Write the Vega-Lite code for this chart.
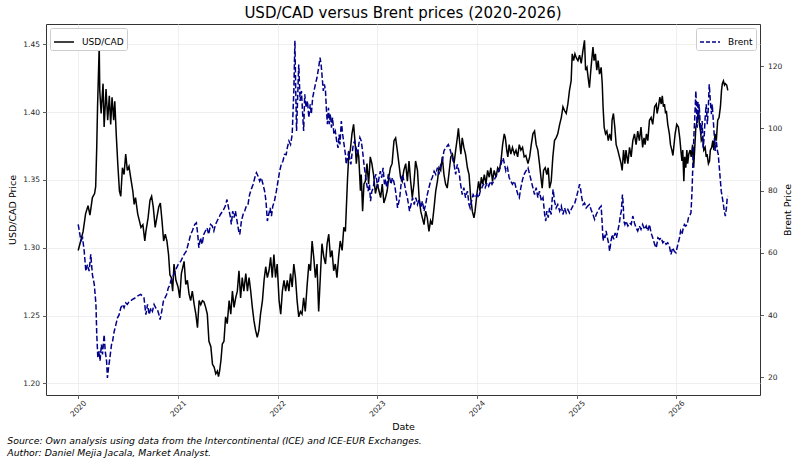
{
  "$schema": "https://vega.github.io/schema/vega-lite/v6.json",
  "background": "white",
  "padding": {"left": 7, "top": 5, "right": 5, "bottom": 5},
  "config": {
    "font": "DejaVu Sans",
    "view": {"stroke": "#333333", "strokeWidth": 1},
    "concat": {"spacing": 0},
    "axis": {
      "domain": false,
      "labelFont": "DejaVu Sans",
      "labelFontSize": 7.5,
      "labelColor": "#262626",
      "titleFont": "DejaVu Sans",
      "titleFontSize": 9.5,
      "titleFontWeight": "normal",
      "titleColor": "#000000",
      "tickColor": "#333333",
      "tickSize": 3.5,
      "tickWidth": 0.8,
      "gridColor": "#ebebeb",
      "gridWidth": 0.8
    },
    "legend": {
      "symbolType": "stroke",
      "symbolSize": 400,
      "symbolStrokeWidth": 1.5,
      "labelFont": "DejaVu Sans",
      "labelFontSize": 9,
      "labelColor": "#000000",
      "labelOffset": 7,
      "padding": 3,
      "strokeColor": "#cccccc",
      "fillColor": "#ffffff",
      "cornerRadius": 2,
      "offset": 4
    }
  },
  "title": {
    "text": [
      "Source: Own analysis using data from the Intercontinental (ICE) and ICE-EUR Exchanges.",
      "Author: Daniel Mejia Jacala, Market Analyst."
    ],
    "orient": "bottom",
    "anchor": "start",
    "frame": "bounds",
    "font": "DejaVu Sans",
    "fontSize": 9.3,
    "fontStyle": "italic",
    "fontWeight": "normal",
    "lineHeight": 12,
    "offset": 5,
    "color": "#000000"
  },
  "datasets": {
    "usdcad": [
      {"date": "2020-01-01", "rate": 1.298}, {"date": "2020-01-10", "rate": 1.305}, {"date": "2020-01-19", "rate": 1.312},
      {"date": "2020-01-28", "rate": 1.325}, {"date": "2020-02-06", "rate": 1.331}, {"date": "2020-02-13", "rate": 1.324},
      {"date": "2020-02-22", "rate": 1.337}, {"date": "2020-03-01", "rate": 1.340}, {"date": "2020-03-05", "rate": 1.345},
      {"date": "2020-03-09", "rate": 1.375}, {"date": "2020-03-12", "rate": 1.405}, {"date": "2020-03-18", "rate": 1.449},
      {"date": "2020-03-20", "rate": 1.416}, {"date": "2020-03-25", "rate": 1.399}, {"date": "2020-04-01", "rate": 1.421},
      {"date": "2020-04-05", "rate": 1.389}, {"date": "2020-04-12", "rate": 1.417}, {"date": "2020-04-18", "rate": 1.394},
      {"date": "2020-04-24", "rate": 1.412}, {"date": "2020-04-29", "rate": 1.391}, {"date": "2020-05-04", "rate": 1.411},
      {"date": "2020-05-10", "rate": 1.394}, {"date": "2020-05-14", "rate": 1.408}, {"date": "2020-05-20", "rate": 1.381},
      {"date": "2020-05-25", "rate": 1.362}, {"date": "2020-05-31", "rate": 1.342}, {"date": "2020-06-05", "rate": 1.338},
      {"date": "2020-06-11", "rate": 1.359}, {"date": "2020-06-17", "rate": 1.354}, {"date": "2020-06-23", "rate": 1.369},
      {"date": "2020-06-29", "rate": 1.357}, {"date": "2020-07-05", "rate": 1.360}, {"date": "2020-07-11", "rate": 1.352},
      {"date": "2020-07-19", "rate": 1.342}, {"date": "2020-07-24", "rate": 1.332}, {"date": "2020-07-29", "rate": 1.337},
      {"date": "2020-08-06", "rate": 1.325}, {"date": "2020-08-12", "rate": 1.320}, {"date": "2020-08-18", "rate": 1.315},
      {"date": "2020-08-25", "rate": 1.317}, {"date": "2020-09-01", "rate": 1.305}, {"date": "2020-09-05", "rate": 1.312},
      {"date": "2020-09-13", "rate": 1.322}, {"date": "2020-09-20", "rate": 1.335}, {"date": "2020-09-26", "rate": 1.338},
      {"date": "2020-10-02", "rate": 1.330}, {"date": "2020-10-09", "rate": 1.315}, {"date": "2020-10-15", "rate": 1.322},
      {"date": "2020-10-22", "rate": 1.330}, {"date": "2020-10-28", "rate": 1.333}, {"date": "2020-11-03", "rate": 1.320},
      {"date": "2020-11-09", "rate": 1.305}, {"date": "2020-11-15", "rate": 1.310}, {"date": "2020-11-21", "rate": 1.305},
      {"date": "2020-11-27", "rate": 1.295}, {"date": "2020-12-02", "rate": 1.280}, {"date": "2020-12-07", "rate": 1.278},
      {"date": "2020-12-12", "rate": 1.268}, {"date": "2020-12-17", "rate": 1.288}, {"date": "2020-12-24", "rate": 1.276},
      {"date": "2021-01-01", "rate": 1.271}, {"date": "2021-01-07", "rate": 1.263}, {"date": "2021-01-13", "rate": 1.281},
      {"date": "2021-01-23", "rate": 1.290}, {"date": "2021-01-29", "rate": 1.273}, {"date": "2021-02-04", "rate": 1.276},
      {"date": "2021-02-10", "rate": 1.266}, {"date": "2021-02-16", "rate": 1.261}, {"date": "2021-02-22", "rate": 1.268},
      {"date": "2021-03-01", "rate": 1.258}, {"date": "2021-03-07", "rate": 1.251}, {"date": "2021-03-13", "rate": 1.241},
      {"date": "2021-03-19", "rate": 1.261}, {"date": "2021-03-25", "rate": 1.258}, {"date": "2021-03-31", "rate": 1.261},
      {"date": "2021-04-06", "rate": 1.260}, {"date": "2021-04-12", "rate": 1.256}, {"date": "2021-04-18", "rate": 1.251},
      {"date": "2021-04-24", "rate": 1.231}, {"date": "2021-05-01", "rate": 1.227}, {"date": "2021-05-07", "rate": 1.214},
      {"date": "2021-05-13", "rate": 1.212}, {"date": "2021-05-19", "rate": 1.207}, {"date": "2021-05-25", "rate": 1.209},
      {"date": "2021-05-29", "rate": 1.205}, {"date": "2021-06-02", "rate": 1.209}, {"date": "2021-06-07", "rate": 1.217},
      {"date": "2021-06-12", "rate": 1.229}, {"date": "2021-06-18", "rate": 1.231}, {"date": "2021-06-24", "rate": 1.249},
      {"date": "2021-06-30", "rate": 1.244}, {"date": "2021-07-07", "rate": 1.261}, {"date": "2021-07-13", "rate": 1.251},
      {"date": "2021-07-19", "rate": 1.268}, {"date": "2021-07-25", "rate": 1.256}, {"date": "2021-07-31", "rate": 1.263},
      {"date": "2021-08-06", "rate": 1.268}, {"date": "2021-08-12", "rate": 1.283}, {"date": "2021-08-18", "rate": 1.263},
      {"date": "2021-08-24", "rate": 1.278}, {"date": "2021-08-30", "rate": 1.268}, {"date": "2021-09-06", "rate": 1.281},
      {"date": "2021-09-12", "rate": 1.268}, {"date": "2021-09-18", "rate": 1.278}, {"date": "2021-09-24", "rate": 1.268},
      {"date": "2021-09-30", "rate": 1.256}, {"date": "2021-10-06", "rate": 1.246}, {"date": "2021-10-12", "rate": 1.239},
      {"date": "2021-10-18", "rate": 1.234}, {"date": "2021-10-24", "rate": 1.239}, {"date": "2021-10-30", "rate": 1.251},
      {"date": "2021-11-06", "rate": 1.261}, {"date": "2021-11-12", "rate": 1.276}, {"date": "2021-11-18", "rate": 1.286},
      {"date": "2021-11-24", "rate": 1.278}, {"date": "2021-11-30", "rate": 1.283}, {"date": "2021-12-06", "rate": 1.293},
      {"date": "2021-12-12", "rate": 1.278}, {"date": "2021-12-18", "rate": 1.295}, {"date": "2021-12-24", "rate": 1.278},
      {"date": "2021-12-30", "rate": 1.288}, {"date": "2022-01-06", "rate": 1.261}, {"date": "2022-01-12", "rate": 1.251},
      {"date": "2022-01-18", "rate": 1.268}, {"date": "2022-01-24", "rate": 1.276}, {"date": "2022-01-30", "rate": 1.268},
      {"date": "2022-02-05", "rate": 1.276}, {"date": "2022-02-11", "rate": 1.268}, {"date": "2022-02-17", "rate": 1.281},
      {"date": "2022-02-23", "rate": 1.271}, {"date": "2022-03-01", "rate": 1.288}, {"date": "2022-03-07", "rate": 1.278},
      {"date": "2022-03-13", "rate": 1.261}, {"date": "2022-03-19", "rate": 1.249}, {"date": "2022-03-25", "rate": 1.253},
      {"date": "2022-03-31", "rate": 1.251}, {"date": "2022-04-06", "rate": 1.263}, {"date": "2022-04-12", "rate": 1.253},
      {"date": "2022-04-19", "rate": 1.273}, {"date": "2022-04-25", "rate": 1.288}, {"date": "2022-05-01", "rate": 1.283},
      {"date": "2022-05-07", "rate": 1.305}, {"date": "2022-05-13", "rate": 1.293}, {"date": "2022-05-19", "rate": 1.278},
      {"date": "2022-05-25", "rate": 1.288}, {"date": "2022-05-31", "rate": 1.253}, {"date": "2022-06-06", "rate": 1.278},
      {"date": "2022-06-12", "rate": 1.303}, {"date": "2022-06-19", "rate": 1.293}, {"date": "2022-06-25", "rate": 1.288},
      {"date": "2022-07-01", "rate": 1.303}, {"date": "2022-07-07", "rate": 1.310}, {"date": "2022-07-13", "rate": 1.293},
      {"date": "2022-07-19", "rate": 1.298}, {"date": "2022-07-25", "rate": 1.283}, {"date": "2022-07-31", "rate": 1.288},
      {"date": "2022-08-06", "rate": 1.278}, {"date": "2022-08-12", "rate": 1.293}, {"date": "2022-08-18", "rate": 1.305},
      {"date": "2022-08-25", "rate": 1.298}, {"date": "2022-08-31", "rate": 1.315}, {"date": "2022-09-06", "rate": 1.312},
      {"date": "2022-09-09", "rate": 1.327}, {"date": "2022-09-14", "rate": 1.352}, {"date": "2022-09-18", "rate": 1.367},
      {"date": "2022-09-24", "rate": 1.372}, {"date": "2022-09-30", "rate": 1.384}, {"date": "2022-10-06", "rate": 1.391},
      {"date": "2022-10-12", "rate": 1.376}, {"date": "2022-10-16", "rate": 1.362}, {"date": "2022-10-21", "rate": 1.372},
      {"date": "2022-10-25", "rate": 1.367}, {"date": "2022-10-31", "rate": 1.342}, {"date": "2022-11-03", "rate": 1.354},
      {"date": "2022-11-08", "rate": 1.327}, {"date": "2022-11-13", "rate": 1.347}, {"date": "2022-11-18", "rate": 1.349},
      {"date": "2022-11-24", "rate": 1.362}, {"date": "2022-11-30", "rate": 1.347}, {"date": "2022-12-06", "rate": 1.367},
      {"date": "2022-12-12", "rate": 1.362}, {"date": "2022-12-18", "rate": 1.354}, {"date": "2022-12-25", "rate": 1.340},
      {"date": "2023-01-01", "rate": 1.347}, {"date": "2023-01-07", "rate": 1.342}, {"date": "2023-01-13", "rate": 1.337},
      {"date": "2023-01-19", "rate": 1.347}, {"date": "2023-01-25", "rate": 1.333}, {"date": "2023-01-31", "rate": 1.337},
      {"date": "2023-02-06", "rate": 1.342}, {"date": "2023-02-12", "rate": 1.352}, {"date": "2023-02-18", "rate": 1.359},
      {"date": "2023-02-24", "rate": 1.362}, {"date": "2023-03-03", "rate": 1.379}, {"date": "2023-03-09", "rate": 1.381},
      {"date": "2023-03-15", "rate": 1.372}, {"date": "2023-03-21", "rate": 1.362}, {"date": "2023-03-27", "rate": 1.352},
      {"date": "2023-04-02", "rate": 1.349}, {"date": "2023-04-08", "rate": 1.357}, {"date": "2023-04-15", "rate": 1.362},
      {"date": "2023-04-21", "rate": 1.349}, {"date": "2023-04-27", "rate": 1.364}, {"date": "2023-05-03", "rate": 1.349},
      {"date": "2023-05-09", "rate": 1.337}, {"date": "2023-05-15", "rate": 1.347}, {"date": "2023-05-21", "rate": 1.364},
      {"date": "2023-05-28", "rate": 1.357}, {"date": "2023-06-03", "rate": 1.337}, {"date": "2023-06-09", "rate": 1.327},
      {"date": "2023-06-15", "rate": 1.322}, {"date": "2023-06-21", "rate": 1.317}, {"date": "2023-06-27", "rate": 1.327},
      {"date": "2023-07-03", "rate": 1.322}, {"date": "2023-07-09", "rate": 1.312}, {"date": "2023-07-15", "rate": 1.320},
      {"date": "2023-07-21", "rate": 1.317}, {"date": "2023-07-28", "rate": 1.330}, {"date": "2023-08-03", "rate": 1.342},
      {"date": "2023-08-09", "rate": 1.349}, {"date": "2023-08-15", "rate": 1.359}, {"date": "2023-08-21", "rate": 1.357},
      {"date": "2023-08-27", "rate": 1.367}, {"date": "2023-09-02", "rate": 1.354}, {"date": "2023-09-08", "rate": 1.347},
      {"date": "2023-09-14", "rate": 1.344}, {"date": "2023-09-20", "rate": 1.354}, {"date": "2023-09-27", "rate": 1.367},
      {"date": "2023-10-03", "rate": 1.369}, {"date": "2023-10-09", "rate": 1.362}, {"date": "2023-10-15", "rate": 1.372},
      {"date": "2023-10-21", "rate": 1.381}, {"date": "2023-10-25", "rate": 1.388}, {"date": "2023-10-29", "rate": 1.379},
      {"date": "2023-11-03", "rate": 1.369}, {"date": "2023-11-08", "rate": 1.381}, {"date": "2023-11-14", "rate": 1.374},
      {"date": "2023-11-20", "rate": 1.369}, {"date": "2023-11-27", "rate": 1.359}, {"date": "2023-12-03", "rate": 1.354},
      {"date": "2023-12-09", "rate": 1.337}, {"date": "2023-12-15", "rate": 1.327}, {"date": "2023-12-21", "rate": 1.322},
      {"date": "2023-12-25", "rate": 1.327}, {"date": "2024-01-01", "rate": 1.340}, {"date": "2024-01-07", "rate": 1.349},
      {"date": "2024-01-12", "rate": 1.342}, {"date": "2024-01-17", "rate": 1.352}, {"date": "2024-01-22", "rate": 1.347},
      {"date": "2024-01-28", "rate": 1.354}, {"date": "2024-02-03", "rate": 1.347}, {"date": "2024-02-09", "rate": 1.357},
      {"date": "2024-02-15", "rate": 1.352}, {"date": "2024-02-21", "rate": 1.359}, {"date": "2024-02-27", "rate": 1.349},
      {"date": "2024-03-04", "rate": 1.357}, {"date": "2024-03-11", "rate": 1.352}, {"date": "2024-03-17", "rate": 1.359},
      {"date": "2024-03-23", "rate": 1.357}, {"date": "2024-03-29", "rate": 1.364}, {"date": "2024-04-04", "rate": 1.376},
      {"date": "2024-04-10", "rate": 1.384}, {"date": "2024-04-14", "rate": 1.381}, {"date": "2024-04-19", "rate": 1.372},
      {"date": "2024-04-23", "rate": 1.367}, {"date": "2024-04-28", "rate": 1.376}, {"date": "2024-05-04", "rate": 1.369},
      {"date": "2024-05-10", "rate": 1.374}, {"date": "2024-05-17", "rate": 1.369}, {"date": "2024-05-23", "rate": 1.372},
      {"date": "2024-05-29", "rate": 1.367}, {"date": "2024-06-04", "rate": 1.376}, {"date": "2024-06-10", "rate": 1.372},
      {"date": "2024-06-16", "rate": 1.374}, {"date": "2024-06-22", "rate": 1.367}, {"date": "2024-06-28", "rate": 1.368},
      {"date": "2024-07-06", "rate": 1.362}, {"date": "2024-07-12", "rate": 1.367}, {"date": "2024-07-18", "rate": 1.376},
      {"date": "2024-07-24", "rate": 1.384}, {"date": "2024-07-30", "rate": 1.386}, {"date": "2024-08-05", "rate": 1.376},
      {"date": "2024-08-11", "rate": 1.372}, {"date": "2024-08-17", "rate": 1.362}, {"date": "2024-08-24", "rate": 1.349},
      {"date": "2024-08-27", "rate": 1.344}, {"date": "2024-09-01", "rate": 1.357}, {"date": "2024-09-07", "rate": 1.359},
      {"date": "2024-09-13", "rate": 1.354}, {"date": "2024-09-18", "rate": 1.359}, {"date": "2024-09-23", "rate": 1.344},
      {"date": "2024-09-29", "rate": 1.349}, {"date": "2024-10-05", "rate": 1.367}, {"date": "2024-10-11", "rate": 1.379},
      {"date": "2024-10-17", "rate": 1.381}, {"date": "2024-10-23", "rate": 1.384}, {"date": "2024-10-30", "rate": 1.391},
      {"date": "2024-11-05", "rate": 1.396}, {"date": "2024-11-11", "rate": 1.404}, {"date": "2024-11-17", "rate": 1.401},
      {"date": "2024-11-23", "rate": 1.399}, {"date": "2024-11-29", "rate": 1.406}, {"date": "2024-12-05", "rate": 1.416},
      {"date": "2024-12-11", "rate": 1.423}, {"date": "2024-12-15", "rate": 1.443}, {"date": "2024-12-20", "rate": 1.438},
      {"date": "2024-12-25", "rate": 1.443}, {"date": "2024-12-30", "rate": 1.440}, {"date": "2025-01-05", "rate": 1.438},
      {"date": "2025-01-11", "rate": 1.442}, {"date": "2025-01-17", "rate": 1.436}, {"date": "2025-01-23", "rate": 1.445},
      {"date": "2025-01-29", "rate": 1.453}, {"date": "2025-02-02", "rate": 1.431}, {"date": "2025-02-07", "rate": 1.433},
      {"date": "2025-02-11", "rate": 1.426}, {"date": "2025-02-16", "rate": 1.418}, {"date": "2025-02-22", "rate": 1.433},
      {"date": "2025-03-01", "rate": 1.448}, {"date": "2025-03-05", "rate": 1.438}, {"date": "2025-03-10", "rate": 1.443},
      {"date": "2025-03-15", "rate": 1.431}, {"date": "2025-03-20", "rate": 1.438}, {"date": "2025-03-25", "rate": 1.428},
      {"date": "2025-03-31", "rate": 1.433}, {"date": "2025-04-04", "rate": 1.421}, {"date": "2025-04-07", "rate": 1.404},
      {"date": "2025-04-11", "rate": 1.389}, {"date": "2025-04-16", "rate": 1.384}, {"date": "2025-04-21", "rate": 1.386},
      {"date": "2025-04-26", "rate": 1.379}, {"date": "2025-05-01", "rate": 1.384}, {"date": "2025-05-07", "rate": 1.379},
      {"date": "2025-05-10", "rate": 1.394}, {"date": "2025-05-15", "rate": 1.399}, {"date": "2025-05-20", "rate": 1.389},
      {"date": "2025-05-25", "rate": 1.376}, {"date": "2025-05-31", "rate": 1.372}, {"date": "2025-06-06", "rate": 1.367},
      {"date": "2025-06-12", "rate": 1.362}, {"date": "2025-06-16", "rate": 1.357}, {"date": "2025-06-21", "rate": 1.372},
      {"date": "2025-06-26", "rate": 1.362}, {"date": "2025-06-30", "rate": 1.372}, {"date": "2025-07-07", "rate": 1.362},
      {"date": "2025-07-13", "rate": 1.374}, {"date": "2025-07-19", "rate": 1.367}, {"date": "2025-07-25", "rate": 1.379},
      {"date": "2025-07-31", "rate": 1.384}, {"date": "2025-08-06", "rate": 1.376}, {"date": "2025-08-12", "rate": 1.386},
      {"date": "2025-08-18", "rate": 1.379}, {"date": "2025-08-24", "rate": 1.389}, {"date": "2025-08-30", "rate": 1.374},
      {"date": "2025-09-04", "rate": 1.381}, {"date": "2025-09-08", "rate": 1.376}, {"date": "2025-09-13", "rate": 1.384},
      {"date": "2025-09-18", "rate": 1.379}, {"date": "2025-09-24", "rate": 1.394}, {"date": "2025-09-30", "rate": 1.396},
      {"date": "2025-10-06", "rate": 1.391}, {"date": "2025-10-13", "rate": 1.404}, {"date": "2025-10-19", "rate": 1.406},
      {"date": "2025-10-22", "rate": 1.399}, {"date": "2025-10-27", "rate": 1.404}, {"date": "2025-11-01", "rate": 1.411},
      {"date": "2025-11-06", "rate": 1.406}, {"date": "2025-11-10", "rate": 1.412}, {"date": "2025-11-14", "rate": 1.404},
      {"date": "2025-11-18", "rate": 1.406}, {"date": "2025-11-22", "rate": 1.399}, {"date": "2025-11-25", "rate": 1.401},
      {"date": "2025-11-30", "rate": 1.391}, {"date": "2025-12-06", "rate": 1.384}, {"date": "2025-12-10", "rate": 1.376},
      {"date": "2025-12-15", "rate": 1.372}, {"date": "2025-12-19", "rate": 1.368}, {"date": "2025-12-22", "rate": 1.374},
      {"date": "2025-12-27", "rate": 1.384}, {"date": "2026-01-02", "rate": 1.391}, {"date": "2026-01-08", "rate": 1.389},
      {"date": "2026-01-13", "rate": 1.381}, {"date": "2026-01-17", "rate": 1.372}, {"date": "2026-01-21", "rate": 1.364},
      {"date": "2026-01-24", "rate": 1.372}, {"date": "2026-01-28", "rate": 1.349}, {"date": "2026-01-31", "rate": 1.367},
      {"date": "2026-02-04", "rate": 1.359}, {"date": "2026-02-08", "rate": 1.372}, {"date": "2026-02-11", "rate": 1.362},
      {"date": "2026-02-15", "rate": 1.369}, {"date": "2026-02-20", "rate": 1.372}, {"date": "2026-02-24", "rate": 1.367},
      {"date": "2026-03-01", "rate": 1.376}, {"date": "2026-03-05", "rate": 1.359}, {"date": "2026-03-09", "rate": 1.374},
      {"date": "2026-03-13", "rate": 1.389}, {"date": "2026-03-18", "rate": 1.394}, {"date": "2026-03-22", "rate": 1.401},
      {"date": "2026-03-26", "rate": 1.391}, {"date": "2026-03-30", "rate": 1.386}, {"date": "2026-04-02", "rate": 1.379},
      {"date": "2026-04-07", "rate": 1.381}, {"date": "2026-04-11", "rate": 1.372}, {"date": "2026-04-16", "rate": 1.374},
      {"date": "2026-04-20", "rate": 1.367}, {"date": "2026-04-23", "rate": 1.369}, {"date": "2026-04-28", "rate": 1.362},
      {"date": "2026-05-02", "rate": 1.364}, {"date": "2026-05-05", "rate": 1.372}, {"date": "2026-05-10", "rate": 1.374},
      {"date": "2026-05-14", "rate": 1.379}, {"date": "2026-05-18", "rate": 1.372}, {"date": "2026-05-22", "rate": 1.384},
      {"date": "2026-05-27", "rate": 1.379}, {"date": "2026-06-01", "rate": 1.394}, {"date": "2026-06-06", "rate": 1.396},
      {"date": "2026-06-11", "rate": 1.404}, {"date": "2026-06-15", "rate": 1.416}, {"date": "2026-06-18", "rate": 1.421},
      {"date": "2026-06-22", "rate": 1.423}, {"date": "2026-06-26", "rate": 1.420}, {"date": "2026-06-29", "rate": 1.421},
      {"date": "2026-07-04", "rate": 1.420}, {"date": "2026-07-08", "rate": 1.416}
    ],
    "brent": [
      {"date": "2020-01-01", "price": 69.1}, {"date": "2020-01-05", "price": 67.0}, {"date": "2020-01-11", "price": 63.8},
      {"date": "2020-01-17", "price": 64.8}, {"date": "2020-01-23", "price": 60.5}, {"date": "2020-01-29", "price": 54.1},
      {"date": "2020-02-04", "price": 56.2}, {"date": "2020-02-10", "price": 54.1}, {"date": "2020-02-16", "price": 59.5},
      {"date": "2020-02-22", "price": 53.0}, {"date": "2020-02-29", "price": 49.8}, {"date": "2020-03-06", "price": 43.4},
      {"date": "2020-03-09", "price": 33.7}, {"date": "2020-03-13", "price": 26.2}, {"date": "2020-03-18", "price": 28.4},
      {"date": "2020-03-21", "price": 25.2}, {"date": "2020-03-26", "price": 30.5}, {"date": "2020-03-30", "price": 27.3},
      {"date": "2020-04-05", "price": 33.7}, {"date": "2020-04-09", "price": 28.4}, {"date": "2020-04-14", "price": 25.2},
      {"date": "2020-04-17", "price": 19.8}, {"date": "2020-04-21", "price": 23.0}, {"date": "2020-04-26", "price": 26.2},
      {"date": "2020-05-02", "price": 30.5}, {"date": "2020-05-06", "price": 31.6}, {"date": "2020-05-12", "price": 34.8},
      {"date": "2020-05-18", "price": 36.9}, {"date": "2020-05-24", "price": 39.1}, {"date": "2020-05-30", "price": 40.1},
      {"date": "2020-06-05", "price": 42.3}, {"date": "2020-06-11", "price": 43.4}, {"date": "2020-06-17", "price": 42.3},
      {"date": "2020-06-23", "price": 43.9}, {"date": "2020-06-29", "price": 43.4}, {"date": "2020-07-06", "price": 44.4},
      {"date": "2020-07-12", "price": 44.6}, {"date": "2020-07-18", "price": 45.0}, {"date": "2020-07-24", "price": 45.3},
      {"date": "2020-07-30", "price": 45.7}, {"date": "2020-08-05", "price": 46.1}, {"date": "2020-08-11", "price": 46.4},
      {"date": "2020-08-17", "price": 46.6}, {"date": "2020-08-23", "price": 46.1}, {"date": "2020-08-29", "price": 45.5},
      {"date": "2020-09-05", "price": 40.1}, {"date": "2020-09-11", "price": 43.4}, {"date": "2020-09-17", "price": 40.1},
      {"date": "2020-09-23", "price": 42.3}, {"date": "2020-09-29", "price": 41.2}, {"date": "2020-10-05", "price": 43.4},
      {"date": "2020-10-11", "price": 42.3}, {"date": "2020-10-17", "price": 41.8}, {"date": "2020-10-23", "price": 40.1},
      {"date": "2020-10-27", "price": 38.5}, {"date": "2020-11-02", "price": 41.2}, {"date": "2020-11-08", "price": 44.4},
      {"date": "2020-11-14", "price": 45.5}, {"date": "2020-11-20", "price": 46.6}, {"date": "2020-11-26", "price": 48.7},
      {"date": "2020-12-03", "price": 49.8}, {"date": "2020-12-05", "price": 50.9}, {"date": "2020-12-11", "price": 51.9},
      {"date": "2020-12-21", "price": 54.1}, {"date": "2021-01-01", "price": 56.2}, {"date": "2021-01-11", "price": 57.3},
      {"date": "2021-01-23", "price": 59.5}, {"date": "2021-01-31", "price": 60.5}, {"date": "2021-02-10", "price": 63.8},
      {"date": "2021-02-16", "price": 65.9}, {"date": "2021-02-22", "price": 67.0}, {"date": "2021-03-03", "price": 69.1},
      {"date": "2021-03-09", "price": 69.6}, {"date": "2021-03-14", "price": 65.9}, {"date": "2021-03-18", "price": 61.6},
      {"date": "2021-03-24", "price": 64.8}, {"date": "2021-03-30", "price": 62.7}, {"date": "2021-04-05", "price": 65.9},
      {"date": "2021-04-11", "price": 67.0}, {"date": "2021-04-17", "price": 68.0}, {"date": "2021-04-23", "price": 65.9},
      {"date": "2021-04-30", "price": 69.1}, {"date": "2021-05-06", "price": 68.6}, {"date": "2021-05-12", "price": 67.0},
      {"date": "2021-05-18", "price": 69.1}, {"date": "2021-05-24", "price": 70.2}, {"date": "2021-06-05", "price": 72.3},
      {"date": "2021-06-17", "price": 73.9}, {"date": "2021-06-23", "price": 75.0}, {"date": "2021-06-29", "price": 77.1},
      {"date": "2021-07-05", "price": 74.4}, {"date": "2021-07-12", "price": 71.3}, {"date": "2021-07-15", "price": 69.1},
      {"date": "2021-07-20", "price": 73.4}, {"date": "2021-07-25", "price": 71.3}, {"date": "2021-07-30", "price": 73.4},
      {"date": "2021-08-05", "price": 70.2}, {"date": "2021-08-11", "price": 67.0}, {"date": "2021-08-15", "price": 65.9},
      {"date": "2021-08-21", "price": 70.2}, {"date": "2021-08-27", "price": 72.3}, {"date": "2021-09-02", "price": 73.4},
      {"date": "2021-09-08", "price": 75.0}, {"date": "2021-09-14", "price": 75.5}, {"date": "2021-09-20", "price": 78.7},
      {"date": "2021-09-26", "price": 80.4}, {"date": "2021-10-03", "price": 82.0}, {"date": "2021-10-09", "price": 84.1},
      {"date": "2021-10-15", "price": 85.7}, {"date": "2021-10-21", "price": 84.6}, {"date": "2021-10-27", "price": 83.0},
      {"date": "2021-11-02", "price": 84.1}, {"date": "2021-11-08", "price": 82.0}, {"date": "2021-11-14", "price": 79.8},
      {"date": "2021-11-19", "price": 76.6}, {"date": "2021-11-24", "price": 70.2}, {"date": "2021-11-29", "price": 72.3},
      {"date": "2021-12-04", "price": 74.4}, {"date": "2021-12-09", "price": 71.8}, {"date": "2021-12-14", "price": 75.0},
      {"date": "2021-12-20", "price": 76.6}, {"date": "2021-12-27", "price": 79.8}, {"date": "2022-01-02", "price": 83.0},
      {"date": "2022-01-08", "price": 86.2}, {"date": "2022-01-14", "price": 88.4}, {"date": "2022-01-20", "price": 89.4},
      {"date": "2022-01-26", "price": 91.6}, {"date": "2022-02-01", "price": 91.5}, {"date": "2022-02-05", "price": 93.7},
      {"date": "2022-02-11", "price": 95.9}, {"date": "2022-02-17", "price": 94.8}, {"date": "2022-02-23", "price": 98.0},
      {"date": "2022-03-01", "price": 112.0}, {"date": "2022-03-05", "price": 128.1}, {"date": "2022-03-08", "price": 112.0},
      {"date": "2022-03-11", "price": 99.1}, {"date": "2022-03-19", "price": 120.5}, {"date": "2022-03-24", "price": 108.8},
      {"date": "2022-03-29", "price": 112.0}, {"date": "2022-04-03", "price": 103.4}, {"date": "2022-04-06", "price": 99.1},
      {"date": "2022-04-10", "price": 110.9}, {"date": "2022-04-15", "price": 106.6}, {"date": "2022-04-20", "price": 108.8},
      {"date": "2022-04-25", "price": 103.4}, {"date": "2022-04-30", "price": 107.7}, {"date": "2022-05-04", "price": 104.5},
      {"date": "2022-05-09", "price": 109.8}, {"date": "2022-05-14", "price": 112.0}, {"date": "2022-05-19", "price": 114.1},
      {"date": "2022-05-25", "price": 116.3}, {"date": "2022-05-31", "price": 119.5}, {"date": "2022-06-05", "price": 122.7},
      {"date": "2022-06-09", "price": 120.5}, {"date": "2022-06-14", "price": 115.2}, {"date": "2022-06-17", "price": 112.0},
      {"date": "2022-06-21", "price": 114.1}, {"date": "2022-06-25", "price": 112.0}, {"date": "2022-06-28", "price": 106.6},
      {"date": "2022-07-02", "price": 101.3}, {"date": "2022-07-06", "price": 106.6}, {"date": "2022-07-09", "price": 101.3},
      {"date": "2022-07-13", "price": 104.5}, {"date": "2022-07-17", "price": 100.2}, {"date": "2022-07-21", "price": 103.4},
      {"date": "2022-07-26", "price": 98.0}, {"date": "2022-07-31", "price": 99.1}, {"date": "2022-08-05", "price": 95.9},
      {"date": "2022-08-10", "price": 93.7}, {"date": "2022-08-14", "price": 98.0}, {"date": "2022-08-17", "price": 94.8},
      {"date": "2022-08-22", "price": 102.3}, {"date": "2022-08-27", "price": 98.0}, {"date": "2022-09-01", "price": 94.8},
      {"date": "2022-09-06", "price": 91.6}, {"date": "2022-09-09", "price": 88.4}, {"date": "2022-09-14", "price": 90.5},
      {"date": "2022-09-18", "price": 92.7}, {"date": "2022-09-23", "price": 89.4}, {"date": "2022-09-26", "price": 88.4},
      {"date": "2022-09-30", "price": 91.6}, {"date": "2022-10-05", "price": 94.8}, {"date": "2022-10-10", "price": 95.9},
      {"date": "2022-10-15", "price": 93.7}, {"date": "2022-10-20", "price": 91.6}, {"date": "2022-10-25", "price": 94.8},
      {"date": "2022-10-29", "price": 97.0}, {"date": "2022-11-03", "price": 95.9}, {"date": "2022-11-08", "price": 92.7},
      {"date": "2022-11-13", "price": 88.4}, {"date": "2022-11-18", "price": 85.2}, {"date": "2022-11-23", "price": 82.0},
      {"date": "2022-11-28", "price": 79.8}, {"date": "2022-12-03", "price": 82.0}, {"date": "2022-12-07", "price": 76.6},
      {"date": "2022-12-12", "price": 79.8}, {"date": "2022-12-17", "price": 80.9}, {"date": "2022-12-22", "price": 84.1},
      {"date": "2022-12-27", "price": 85.2}, {"date": "2023-01-02", "price": 80.9}, {"date": "2023-01-07", "price": 84.1},
      {"date": "2023-01-12", "price": 86.2}, {"date": "2023-01-17", "price": 84.1}, {"date": "2023-01-22", "price": 87.3},
      {"date": "2023-01-27", "price": 82.0}, {"date": "2023-01-31", "price": 83.0}, {"date": "2023-02-05", "price": 80.9},
      {"date": "2023-02-10", "price": 85.2}, {"date": "2023-02-15", "price": 84.1}, {"date": "2023-02-20", "price": 82.0},
      {"date": "2023-02-25", "price": 84.1}, {"date": "2023-03-02", "price": 83.0}, {"date": "2023-03-07", "price": 80.9},
      {"date": "2023-03-12", "price": 77.7}, {"date": "2023-03-16", "price": 74.4}, {"date": "2023-03-24", "price": 77.7},
      {"date": "2023-03-29", "price": 82.0}, {"date": "2023-04-02", "price": 85.2}, {"date": "2023-04-09", "price": 83.0},
      {"date": "2023-04-15", "price": 79.8}, {"date": "2023-04-21", "price": 77.7}, {"date": "2023-04-29", "price": 73.4},
      {"date": "2023-05-10", "price": 77.7}, {"date": "2023-05-16", "price": 75.5}, {"date": "2023-05-22", "price": 77.7},
      {"date": "2023-05-28", "price": 75.5}, {"date": "2023-06-03", "price": 77.1}, {"date": "2023-06-09", "price": 74.4},
      {"date": "2023-06-15", "price": 76.6}, {"date": "2023-06-21", "price": 73.4}, {"date": "2023-06-27", "price": 75.5},
      {"date": "2023-07-03", "price": 78.7}, {"date": "2023-07-09", "price": 80.9}, {"date": "2023-07-15", "price": 83.0},
      {"date": "2023-07-21", "price": 84.1}, {"date": "2023-07-28", "price": 86.2}, {"date": "2023-08-03", "price": 85.2},
      {"date": "2023-08-09", "price": 87.3}, {"date": "2023-08-15", "price": 85.2}, {"date": "2023-08-21", "price": 88.4},
      {"date": "2023-08-27", "price": 89.4}, {"date": "2023-09-02", "price": 92.7}, {"date": "2023-09-08", "price": 93.7},
      {"date": "2023-09-14", "price": 94.3}, {"date": "2023-09-18", "price": 94.8}, {"date": "2023-09-23", "price": 93.7},
      {"date": "2023-09-28", "price": 92.0}, {"date": "2023-10-03", "price": 90.5}, {"date": "2023-10-09", "price": 88.4},
      {"date": "2023-10-15", "price": 85.2}, {"date": "2023-10-21", "price": 88.4}, {"date": "2023-10-27", "price": 86.2},
      {"date": "2023-11-02", "price": 82.0}, {"date": "2023-11-08", "price": 78.7}, {"date": "2023-11-14", "price": 80.9},
      {"date": "2023-11-20", "price": 77.7}, {"date": "2023-11-27", "price": 79.8}, {"date": "2023-12-03", "price": 75.5},
      {"date": "2023-12-07", "price": 74.4}, {"date": "2023-12-12", "price": 76.6}, {"date": "2023-12-18", "price": 78.7},
      {"date": "2023-12-24", "price": 77.7}, {"date": "2024-01-01", "price": 78.7}, {"date": "2024-01-07", "price": 77.7},
      {"date": "2024-01-13", "price": 79.8}, {"date": "2024-01-19", "price": 80.9}, {"date": "2024-01-25", "price": 82.0},
      {"date": "2024-01-31", "price": 80.9}, {"date": "2024-02-07", "price": 82.5}, {"date": "2024-02-13", "price": 81.4},
      {"date": "2024-02-19", "price": 83.0}, {"date": "2024-02-25", "price": 82.0}, {"date": "2024-03-02", "price": 83.0},
      {"date": "2024-03-08", "price": 84.1}, {"date": "2024-03-14", "price": 85.2}, {"date": "2024-03-20", "price": 86.2},
      {"date": "2024-03-26", "price": 87.3}, {"date": "2024-04-01", "price": 89.4}, {"date": "2024-04-06", "price": 90.5},
      {"date": "2024-04-11", "price": 88.4}, {"date": "2024-04-16", "price": 86.2}, {"date": "2024-04-22", "price": 87.3},
      {"date": "2024-04-28", "price": 84.1}, {"date": "2024-05-04", "price": 83.0}, {"date": "2024-05-10", "price": 82.0},
      {"date": "2024-05-17", "price": 83.0}, {"date": "2024-05-23", "price": 80.9}, {"date": "2024-05-30", "price": 78.7},
      {"date": "2024-06-04", "price": 77.7}, {"date": "2024-06-10", "price": 81.0}, {"date": "2024-06-16", "price": 83.5},
      {"date": "2024-06-22", "price": 85.2}, {"date": "2024-06-28", "price": 86.2}, {"date": "2024-07-06", "price": 87.3},
      {"date": "2024-07-12", "price": 85.2}, {"date": "2024-07-18", "price": 83.0}, {"date": "2024-07-24", "price": 80.9},
      {"date": "2024-07-30", "price": 78.7}, {"date": "2024-08-05", "price": 80.9}, {"date": "2024-08-11", "price": 77.7},
      {"date": "2024-08-17", "price": 79.8}, {"date": "2024-08-24", "price": 76.6}, {"date": "2024-08-30", "price": 77.7},
      {"date": "2024-09-05", "price": 72.3}, {"date": "2024-09-09", "price": 70.2}, {"date": "2024-09-13", "price": 73.4},
      {"date": "2024-09-18", "price": 71.3}, {"date": "2024-09-23", "price": 74.4}, {"date": "2024-09-29", "price": 72.3},
      {"date": "2024-10-02", "price": 76.6}, {"date": "2024-10-06", "price": 80.4}, {"date": "2024-10-11", "price": 76.6},
      {"date": "2024-10-17", "price": 74.4}, {"date": "2024-10-23", "price": 75.5}, {"date": "2024-10-30", "price": 73.4},
      {"date": "2024-11-05", "price": 75.0}, {"date": "2024-11-11", "price": 72.3}, {"date": "2024-11-17", "price": 74.4},
      {"date": "2024-11-23", "price": 72.8}, {"date": "2024-11-29", "price": 73.9}, {"date": "2024-12-05", "price": 72.8},
      {"date": "2024-12-11", "price": 73.9}, {"date": "2024-12-17", "price": 75.0}, {"date": "2024-12-23", "price": 75.5},
      {"date": "2024-12-30", "price": 77.7}, {"date": "2025-01-05", "price": 79.8}, {"date": "2025-01-11", "price": 82.0},
      {"date": "2025-01-14", "price": 80.9}, {"date": "2025-01-19", "price": 77.7}, {"date": "2025-01-24", "price": 75.5},
      {"date": "2025-01-29", "price": 76.0}, {"date": "2025-02-04", "price": 74.4}, {"date": "2025-02-10", "price": 75.0},
      {"date": "2025-02-16", "price": 75.5}, {"date": "2025-02-22", "price": 73.9}, {"date": "2025-03-01", "price": 72.3},
      {"date": "2025-03-07", "price": 70.7}, {"date": "2025-03-13", "price": 72.3}, {"date": "2025-03-19", "price": 73.4},
      {"date": "2025-03-25", "price": 74.4}, {"date": "2025-03-31", "price": 75.0}, {"date": "2025-04-04", "price": 69.1},
      {"date": "2025-04-07", "price": 63.8}, {"date": "2025-04-11", "price": 65.9}, {"date": "2025-04-14", "price": 64.8},
      {"date": "2025-04-18", "price": 67.0}, {"date": "2025-04-23", "price": 64.8}, {"date": "2025-04-28", "price": 62.7},
      {"date": "2025-05-01", "price": 60.5}, {"date": "2025-05-06", "price": 63.8}, {"date": "2025-05-11", "price": 65.9},
      {"date": "2025-05-16", "price": 64.3}, {"date": "2025-05-21", "price": 66.4}, {"date": "2025-05-26", "price": 64.8},
      {"date": "2025-05-31", "price": 67.0}, {"date": "2025-06-05", "price": 69.1}, {"date": "2025-06-10", "price": 72.3},
      {"date": "2025-06-13", "price": 73.4}, {"date": "2025-06-17", "price": 78.7}, {"date": "2025-06-20", "price": 75.5},
      {"date": "2025-06-22", "price": 70.2}, {"date": "2025-06-26", "price": 69.1}, {"date": "2025-06-30", "price": 70.2},
      {"date": "2025-07-07", "price": 68.6}, {"date": "2025-07-13", "price": 69.6}, {"date": "2025-07-19", "price": 69.1},
      {"date": "2025-07-25", "price": 71.8}, {"date": "2025-07-31", "price": 69.6}, {"date": "2025-08-06", "price": 68.0},
      {"date": "2025-08-12", "price": 67.0}, {"date": "2025-08-18", "price": 68.6}, {"date": "2025-08-24", "price": 67.5},
      {"date": "2025-08-30", "price": 69.1}, {"date": "2025-09-06", "price": 67.5}, {"date": "2025-09-12", "price": 68.6},
      {"date": "2025-09-18", "price": 67.0}, {"date": "2025-09-24", "price": 69.1}, {"date": "2025-09-30", "price": 66.4},
      {"date": "2025-10-06", "price": 64.8}, {"date": "2025-10-13", "price": 62.7}, {"date": "2025-10-19", "price": 61.6},
      {"date": "2025-10-25", "price": 64.8}, {"date": "2025-10-31", "price": 64.3}, {"date": "2025-11-06", "price": 64.8},
      {"date": "2025-11-12", "price": 63.2}, {"date": "2025-11-18", "price": 63.8}, {"date": "2025-11-24", "price": 62.7},
      {"date": "2025-11-30", "price": 63.2}, {"date": "2025-12-06", "price": 62.1}, {"date": "2025-12-12", "price": 59.5},
      {"date": "2025-12-18", "price": 61.6}, {"date": "2025-12-24", "price": 60.5}, {"date": "2025-12-30", "price": 60.0},
      {"date": "2026-01-06", "price": 62.7}, {"date": "2026-01-12", "price": 64.8}, {"date": "2026-01-16", "price": 67.0},
      {"date": "2026-01-21", "price": 65.9}, {"date": "2026-01-26", "price": 68.0}, {"date": "2026-01-30", "price": 69.1},
      {"date": "2026-02-04", "price": 68.6}, {"date": "2026-02-09", "price": 69.1}, {"date": "2026-02-14", "price": 71.3},
      {"date": "2026-02-18", "price": 71.8}, {"date": "2026-02-23", "price": 72.8}, {"date": "2026-02-27", "price": 79.8},
      {"date": "2026-03-02", "price": 88.4}, {"date": "2026-03-06", "price": 98.0}, {"date": "2026-03-09", "price": 103.4},
      {"date": "2026-03-13", "price": 112.0}, {"date": "2026-03-16", "price": 104.5}, {"date": "2026-03-18", "price": 100.2},
      {"date": "2026-03-20", "price": 108.8}, {"date": "2026-03-23", "price": 103.4}, {"date": "2026-03-25", "price": 107.7},
      {"date": "2026-03-29", "price": 101.3}, {"date": "2026-04-02", "price": 98.0}, {"date": "2026-04-05", "price": 102.3},
      {"date": "2026-04-09", "price": 93.7}, {"date": "2026-04-13", "price": 98.0}, {"date": "2026-04-16", "price": 103.4},
      {"date": "2026-04-20", "price": 107.7}, {"date": "2026-04-24", "price": 101.3}, {"date": "2026-04-27", "price": 105.5},
      {"date": "2026-05-01", "price": 114.1}, {"date": "2026-05-05", "price": 108.8}, {"date": "2026-05-09", "price": 104.5},
      {"date": "2026-05-12", "price": 107.7}, {"date": "2026-05-16", "price": 102.3}, {"date": "2026-05-20", "price": 97.0},
      {"date": "2026-05-23", "price": 92.7}, {"date": "2026-05-27", "price": 95.9}, {"date": "2026-05-31", "price": 92.7},
      {"date": "2026-06-03", "price": 91.6}, {"date": "2026-06-07", "price": 87.3}, {"date": "2026-06-11", "price": 83.0},
      {"date": "2026-06-14", "price": 79.8}, {"date": "2026-06-18", "price": 77.7}, {"date": "2026-06-22", "price": 75.5},
      {"date": "2026-06-25", "price": 73.4}, {"date": "2026-06-29", "price": 71.8}, {"date": "2026-07-03", "price": 74.4},
      {"date": "2026-07-06", "price": 77.7}, {"date": "2026-07-08", "price": 78.2}
    ]
  },
  "vconcat": [
    {
      "width": 714,
      "height": 371,
      "title": {
        "text": "USD/CAD versus Brent prices (2020-2026)",
        "font": "DejaVu Sans",
        "fontSize": 15,
        "fontWeight": "normal",
        "color": "#000000",
        "anchor": "middle",
        "offset": 3
      },
      "layer": [
        {
          "data": {"name": "usdcad"},
          "mark": {"type": "line", "strokeWidth": 1.5},
          "encoding": {
            "x": {
              "field": "date",
              "type": "temporal",
              "scale": {"domain": [{"year": 2019, "month": 9, "date": 5}, {"year": 2026, "month": 11, "date": 3}]},
              "axis": {
                "title": "Date",
                "format": "%Y",
                "tickCount": {"interval": "year", "step": 1},
                "labelAngle": -45,
                "labelAlign": "center",
                "labelBaseline": "middle",
                "labelPadding": 10,
                "labelOverlap": false,
                "titlePadding": 4,
                "grid": true
              }
            },
            "y": {
              "field": "rate",
              "type": "quantitative",
              "scale": {"domain": [1.1914, 1.465], "zero": false, "nice": false},
              "axis": {
                "title": "USD/CAD Price",
                "values": [1.2, 1.25, 1.3, 1.35, 1.4, 1.45],
                "format": ".2f",
                "grid": true,
                "labelPadding": 3,
                "titlePadding": 5
              }
            },
            "color": {
              "datum": "USD/CAD",
              "type": "nominal",
              "scale": {"range": ["#000000"]},
              "legend": {"title": null, "orient": "top-left"}
            }
          }
        },
        {
          "data": {"name": "brent"},
          "mark": {"type": "line", "strokeWidth": 1.5, "strokeDash": [5.5, 2.4]},
          "encoding": {
            "x": {"field": "date", "type": "temporal"},
            "y": {
              "field": "price",
              "type": "quantitative",
              "scale": {"domain": [14.3, 133.5], "zero": false, "nice": false},
              "axis": {
                "orient": "right",
                "title": "Brent Price",
                "titleAngle": -90,
                "values": [20, 40, 60, 80, 100, 120],
                "grid": false,
                "labelPadding": 4,
                "titlePadding": 11
              }
            },
            "color": {
              "datum": "Brent",
              "type": "nominal",
              "scale": {"range": ["#00008b"]},
              "legend": {"title": null, "orient": "top-right", "symbolDash": [4, 2]}
            }
          }
        }
      ],
      "resolve": {"scale": {"y": "independent", "color": "independent"}}
    }
  ]
}
